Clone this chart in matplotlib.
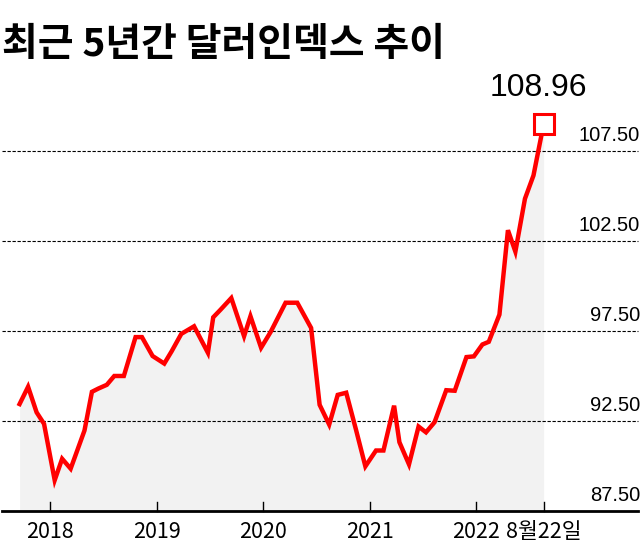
import matplotlib
matplotlib.use("Agg")
import matplotlib.pyplot as plt

dates = [2017.71,2017.79,2017.87,2017.94,2018.04,2018.11,2018.19,2018.32,2018.39,2018.45,
         2018.53,2018.60,2018.69,2018.80,2018.86,2018.96,2019.07,2019.14,2019.23,2019.35,
         2019.48,2019.53,2019.60,2019.70,2019.82,2019.88,2019.98,2020.07,2020.21,2020.32,
         2020.45,2020.53,2020.62,2020.70,2020.78,2020.87,2020.96,2021.06,2021.13,2021.23,
         2021.28,2021.37,2021.46,2021.53,2021.61,2021.72,2021.80,2021.91,2021.98,2022.06,
         2022.12,2022.22,2022.30,2022.37,2022.46,2022.54,2022.635]
values = [93.42,94.38,92.96,92.32,89.19,90.38,89.83,91.95,94.10,94.28,
          94.49,94.98,94.98,97.14,97.14,96.09,95.67,96.36,97.32,97.74,
          96.27,98.24,98.67,99.31,97.19,98.30,96.55,97.43,99.05,99.05,
          97.65,93.38,92.28,93.93,94.05,92.04,89.96,90.84,90.84,93.33,
          91.30,90.07,92.17,91.85,92.41,94.19,94.16,96.03,96.07,96.73,
          96.88,98.39,103.08,101.89,104.83,106.12,108.96]
yticks = [87.5, 92.5, 97.5, 102.5, 107.5]
ytick_labels = ["87.50", "92.50", "97.50", "102.50", "107.50"]
xticks = [2018, 2019, 2020, 2021, 2022, 2022.635]
xtick_labels = ["2018", "2019", "2020", "2021", "2022", "8월22일"]
title = "최근 5년간 달러인덱스 추이"
last_label = "108.96"

fam = ["Noto Sans CJK KR", "DejaVu Sans"]
fig = plt.figure(figsize=(6.42, 5.46), dpi=100)
ax = fig.add_axes([0, 0.0648, 1, 0.807])
ax.set_xlim(2017.526, 2023.56)
ax.set_ylim(87.5, 111.98)
for s in ax.spines.values():
    s.set_visible(False)
ax.set_xticks([]); ax.set_yticks([])

for v in yticks[1:]:
    ax.axhline(v, xmin=0.003, xmax=0.994, color="black", lw=0.8, ls=(0, (3, 1.5)), zorder=1)
for v, l in zip(yticks, ytick_labels):
    ax.text(0.997, v + 0.3, l, transform=ax.get_yaxis_transform(), ha="right", va="bottom",
            fontsize=14.5, family="Liberation Sans", color="black")

ax.fill_between(dates, values, 87.5, color="#f2f2f2", lw=0, zorder=0)
ax.plot(dates, values, color="#ff0000", lw=3.2, solid_joinstyle="miter", zorder=3)
ax.plot(dates[-1], values[-1], marker="s", ms=15, mfc="white", mec="#ff0000", mew=2.2, zorder=4)
ax.text(dates[-1] - 0.05, values[-1] + 1.2, last_label, ha="center", va="bottom", fontsize=23,
        family="Liberation Sans", color="black")

ax.axhline(87.5, xmin=0.003, xmax=0.994, color="black", lw=2, zorder=5, clip_on=False)
for t, l in zip(xticks, xtick_labels):
    ax.plot([t, t], [87.5, 88.0], color="black", lw=1, zorder=5, clip_on=False)
    ax.text(t, 86.9, l, ha="center", va="top", fontsize=15.5, family=fam, color="black")

fig.text(0.003, 0.918, title, ha="left", va="center", fontsize=28, fontweight="bold", family=fam)
fig.savefig("out.png", dpi=100)
